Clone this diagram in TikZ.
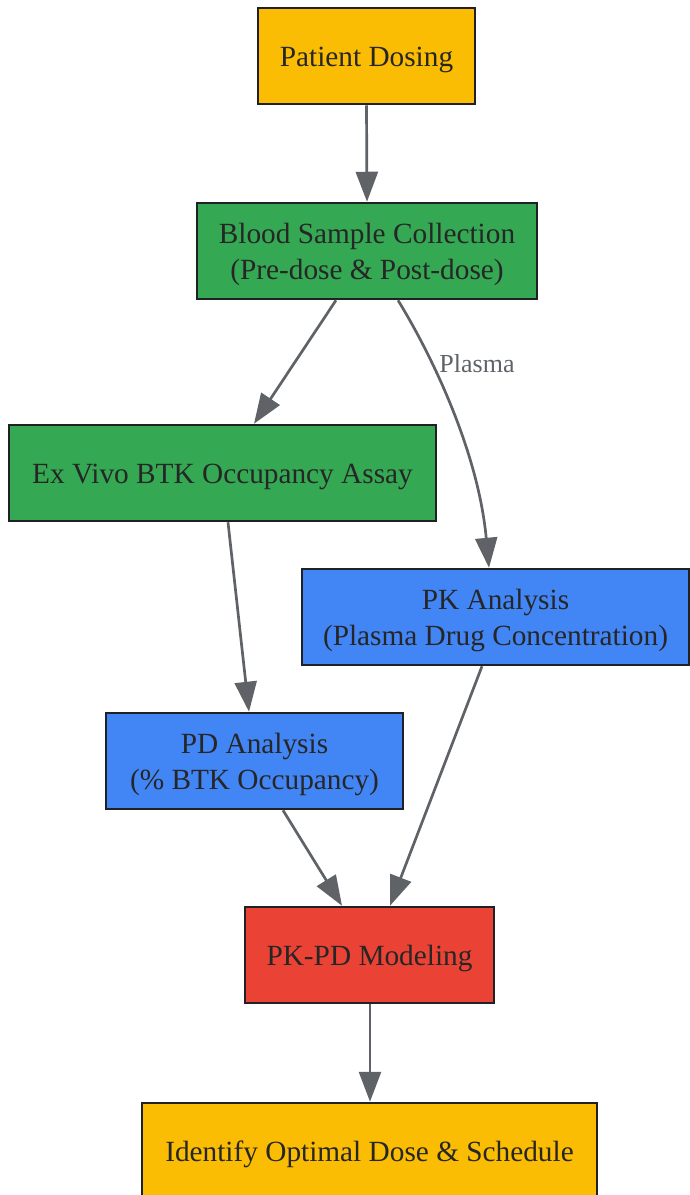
\documentclass[tikz,border=0pt]{standalone}
\usepackage{fontspec}
\setmainfont{Liberation Serif}
\usetikzlibrary{arrows.meta}
\definecolor{cyel}{HTML}{FBBC04}
\definecolor{cgreen}{HTML}{34A853}
\definecolor{cblue}{HTML}{4285F4}
\definecolor{cred}{HTML}{EA4335}
\definecolor{cborder}{HTML}{202124}
\definecolor{ctext}{HTML}{262626}
\definecolor{cedge}{HTML}{5F6368}
\begin{document}
\begin{tikzpicture}[x=1pt,y=-1pt,
  box/.style={draw=cborder, line width=2.5pt, inner sep=0pt, text=ctext,
    font=\fontsize{29.3}{35.5}\selectfont, align=center, minimum height=96pt},
  oneline/.style={text height=27.8pt, text depth=6.4pt},
  twoline/.style={text height=63.3pt, text depth=6.4pt},
  edge/.style={draw=cedge, line width=2.7pt, -{Triangle[length=30pt,width=22pt]}},
  elabel/.style={text=cedge, font=\fontsize{26}{30}\selectfont, inner sep=0pt}]
\useasboundingbox (0,0) rectangle (689,1195);
\node[box, oneline, fill=cyel, minimum width=217pt] (dose) at (366.5,56) {Patient Dosing};
\node[box, twoline, fill=cgreen, minimum width=340pt] (blood) at (367,251) {Blood Sample Collection\\(Pre-dose \& Post-dose)};
\node[box, oneline, fill=cgreen, minimum width=427pt] (exvivo) at (222.5,473) {Ex Vivo BTK Occupancy Assay};
\node[box, twoline, fill=cblue, minimum width=387pt] (pk) at (495.5,617) {PK Analysis\\(Plasma Drug Concentration)};
\node[box, twoline, fill=cblue, minimum width=297pt] (pd) at (254.5,761) {PD Analysis\\(\% BTK Occupancy)};
\node[box, oneline, fill=cred, minimum width=249pt] (pkpd) at (369.5,955) {PK-PD Modeling};
\node[box, oneline, fill=cyel, minimum width=455pt] (ident) at (369.5,1151) {Identify Optimal Dose \& Schedule};
\draw[edge] (dose.south) -- (blood.north);
\draw[edge] ([xshift=-31pt]blood.south) -- ([xshift=31.5pt]exvivo.north);
\draw[edge] ([xshift=31pt]blood.south) .. controls +(32,52) and +(-11,-118) .. ([xshift=-6.5pt]pk.north);
\node[elabel] (plasma) at (477,364) {Plasma};
\draw[edge] ([xshift=5.5pt]exvivo.south) -- ([xshift=-5.5pt]pd.north);
\draw[edge] ([xshift=-13.5pt]pk.south) -- ([xshift=20.5pt]pkpd.north);
\draw[edge] ([xshift=28.5pt]pd.south) -- ([xshift=-27.5pt]pkpd.north);
\draw[edge] ([xshift=0.5pt]pkpd.south) -- ([xshift=0.5pt]ident.north);
\end{tikzpicture}
\end{document}
